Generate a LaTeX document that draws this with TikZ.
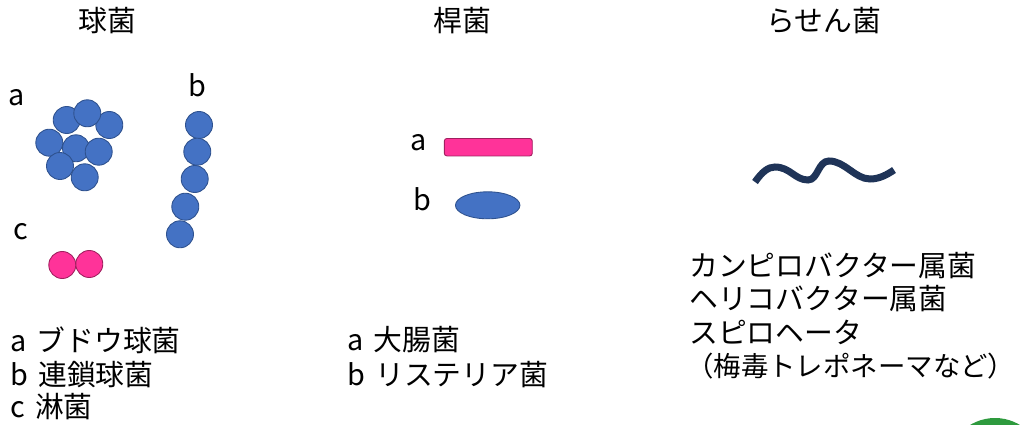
\documentclass[tikz,border=0pt]{standalone}
\usepackage{fontspec}
\setmainfont{Noto Sans CJK JP}
\usetikzlibrary{shapes.geometric}
\usepackage{xcolor}
\definecolor{CellBlue}{HTML}{4472C4}
\definecolor{CellBlueEdge}{HTML}{2F528F}
\definecolor{CellPink}{HTML}{FF3399}
\definecolor{CellPinkEdge}{HTML}{A0205F}
\definecolor{SpiralNavy}{HTML}{1F3458}
\definecolor{LogoGreen}{HTML}{2E9A3E}
\tikzset{
    % cell shapes
    coccus/.style={
        circle,
        draw=CellBlueEdge,
        fill=CellBlue,
        line width=0.5pt,
        minimum size=0.54cm,
        inner sep=0pt
    },
    pinkcoccus/.style={
        coccus,
        draw=CellPinkEdge,
        fill=CellPink
    },
    rod/.style={
        rectangle,
        rounded corners=1.5pt,
        draw=CellPinkEdge,
        fill=CellPink,
        line width=0.5pt,
        minimum width=1.76cm,
        minimum height=0.35cm,
        inner sep=0pt
    },
    shortrod/.style={
        ellipse,
        draw=CellBlueEdge,
        fill=CellBlue,
        line width=0.5pt,
        minimum width=1.29cm,
        minimum height=0.54cm,
        inner sep=0pt
    },
    spiral/.style={
        line width=0.14cm,
        draw=SpiralNavy
    },
    % texts
    heading/.style={
        font=\fontsize{16.4pt}{19pt}\selectfont,
        inner sep=0pt
    },
    tag/.style={
        font=\fontsize{16.4pt}{19pt}\selectfont,
        inner sep=0pt
    },
    listline/.style={
        font=\fontsize{16.4pt}{19pt}\selectfont,
        anchor=west,
        inner sep=0pt
    }
}

\begin{document}
\begin{tikzpicture}[x=0.02cm, y=-0.02cm]
    \useasboundingbox (0,0) rectangle (1027,425);
    \clip (0,0) rectangle (1027,425);

    % headings
    \node[heading] (hcocci) at (107,21) {球菌};
    \node[heading] (hbacilli) at (462,21) {桿菌};
    \node[heading] (hspiral) at (824,21) {らせん菌};

    % cocci: cluster
    \node[tag] (ta) at (17,98) {a};
    \node[coccus] (sa1) at (66.7,120) {};
    \node[coccus] (sa3) at (109.3,125) {};
    \node[coccus] (sa2) at (87.3,113.3) {};
    \node[coccus] (sa4) at (49.3,142.7) {};
    \node[coccus] (sa5) at (76,148.3) {};
    \node[coccus] (sa6) at (98.7,151.7) {};
    \node[coccus] (sa7) at (60,166) {};
    \node[coccus] (sa8) at (84.7,177.3) {};

    % cocci: chain
    \node[tag] (tb) at (197,85) {b};
    \node[coccus] (sb1) at (199,125) {};
    \node[coccus] (sb2) at (197.3,151.7) {};
    \node[coccus] (sb3) at (194.7,179) {};
    \node[coccus] (sb4) at (185.3,206.7) {};
    \node[coccus] (sb5) at (180,234.3) {};

    % cocci: pair
    \node[tag] (tc) at (21,232) {c};
    \node[pinkcoccus] (sc1) at (62.3,265) {};
    \node[pinkcoccus] (sc2) at (89.3,264) {};

    % bacilli
    \node[tag] (ra) at (419,143) {a};
    \node[rod] (rod1) at (488.3,147.2) {};
    \node[tag] (rb) at (422,199) {b};
    \node[shortrod] (rod2) at (487.7,205.3) {};

    % spiral
    \draw[spiral] (755,182) .. controls (762,172) and (768,167) .. (775,167)
        .. controls (790,167) and (795,180) .. (808,180)
        .. controls (818,180) and (818,161) .. (829,161)
        .. controls (845,161) and (855,179) .. (870,179)
        .. controls (880,179) and (888,174) .. (894,170);

    % lists
    \node[listline] (la) at (10,340) {a\hspace{0.35em}ブドウ球菌};
    \node[listline] (lb) at (10,375) {b\hspace{0.35em}連鎖球菌};
    \node[listline] (lc) at (10,407) {c\hspace{0.35em}淋菌};

    \node[listline] (ma) at (347,340) {a\hspace{0.35em}大腸菌};
    \node[listline] (mb) at (347,375) {b\hspace{0.35em}リステリア菌};

    \node[listline] (na) at (689,266) {カンピロバクター属菌};
    \node[listline] (nb) at (689,299) {ヘリコバクター属菌};
    \node[listline] (nc) at (689,332) {スピロヘータ};
    \node[listline, font=\fontsize{15.6pt}{19pt}\selectfont] (nd) at (686,366)
        {（梅毒トレポネーマなど）};

    % corner emblem
    \fill[LogoGreen] (995,466) circle (48);
    \fill[white] (995,466) circle (38);
\end{tikzpicture}
\end{document}
